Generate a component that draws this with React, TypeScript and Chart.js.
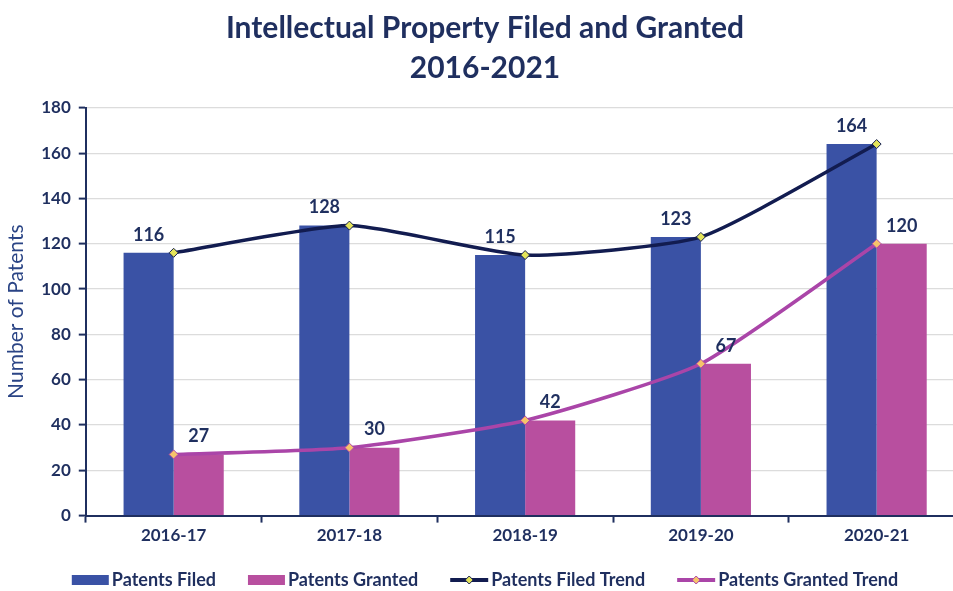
import React, { useEffect, useRef } from "react";
import { Chart, registerables } from "chart.js";

Chart.register(...registerables);

const categories = ["2016-17", "2017-18", "2018-19", "2019-20", "2020-21"];
const patentsFiled = [116, 128, 115, 123, 164];
const patentsGranted = [27, 30, 42, 67, 120];
const yTicks = [0, 20, 40, 60, 80, 100, 120, 140, 160, 180];
const titleLines = ["Intellectual Property Filed and Granted", "2016-2021"];
const yTitle = "Number of Patents";

const NAVY = "#1f2f5f";
const FONT = "Lato, 'Open Sans', sans-serif";

const barLabelPlugin = {
  id: "barLabels",
  afterDatasetsDraw(chart: any) {
    const ctx = chart.ctx;
    ctx.save();
    ctx.font = `bold 18px ${FONT}`;
    ctx.fillStyle = NAVY;
    ctx.textAlign = "center";
    ctx.textBaseline = "bottom";
    [0, 1].forEach((di) => {
      const meta = chart.getDatasetMeta(di);
      const data = chart.data.datasets[di].data as number[];
      meta.data.forEach((el: any, j: number) => {
        ctx.fillText(String(data[j]), el.x, el.y - 9);
      });
    });
    ctx.restore();
  },
};

const legendPlugin = {
  id: "customLegend",
  afterDraw(chart: any) {
    const ctx = chart.ctx;
    const ds = chart.data.datasets;
    ctx.save();
    ctx.font = `bold 18px ${FONT}`;
    ctx.textBaseline = "middle";
    ctx.textAlign = "left";
    const y = 580;
    const boxW = 37;
    const lineW = 38;
    const gapAfterSym = 3;
    const itemGap = 32;
    const items = ds.map((d: any) => ({
      type: d.type === "line" ? "line" : "box",
      text: d.label as string,
      color: (d.type === "line" ? d.borderColor : d.backgroundColor) as string,
      point: d.pointBackgroundColor as string,
    }));
    const widths = items.map(
      (it: any) => (it.type === "box" ? boxW : lineW) + gapAfterSym + ctx.measureText(it.text).width
    );
    const total = widths.reduce((a: number, b: number) => a + b, 0) + itemGap * (items.length - 1);
    let x = 485 - total / 2;
    items.forEach((it: any) => {
      if (it.type === "box") {
        ctx.fillStyle = it.color;
        ctx.fillRect(x, y - 5, boxW, 10);
        x += boxW;
      } else {
        ctx.strokeStyle = it.color;
        ctx.lineWidth = 4;
        ctx.beginPath();
        ctx.moveTo(x, y);
        ctx.lineTo(x + lineW, y);
        ctx.stroke();
        ctx.fillStyle = it.point;
        ctx.strokeStyle = it.color;
        ctx.lineWidth = 1;
        ctx.beginPath();
        ctx.moveTo(x + lineW / 2, y - 4);
        ctx.lineTo(x + lineW / 2 + 4, y);
        ctx.lineTo(x + lineW / 2, y + 4);
        ctx.lineTo(x + lineW / 2 - 4, y);
        ctx.closePath();
        ctx.fill();
        ctx.stroke();
        x += lineW;
      }
      x += gapAfterSym;
      ctx.fillStyle = NAVY;
      ctx.fillText(it.text, x, y);
      x += ctx.measureText(it.text).width + itemGap;
    });
    ctx.restore();
  },
};

export default function App() {
  const canvasRef = useRef<HTMLCanvasElement | null>(null);

  useEffect(() => {
    if (!canvasRef.current) return;
    const chart = new Chart(canvasRef.current, {
      data: {
        labels: categories,
        datasets: [
          {
            type: "bar",
            label: "Patents Filed",
            data: patentsFiled,
            backgroundColor: "#3a52a5",
            order: 2,
          },
          {
            type: "bar",
            label: "Patents Granted",
            data: patentsGranted,
            backgroundColor: "#b84f9f",
            order: 2,
          },
          {
            type: "line",
            label: "Patents Filed Trend",
            data: patentsFiled,
            borderColor: "#121c50",
            borderWidth: 3.5,
            tension: 0.18,
            pointStyle: "rectRot",
            pointRadius: 4.5,
            pointBackgroundColor: "#e4e45a",
            pointBorderColor: "#121c50",
            pointBorderWidth: 1,
            order: 0,
          } as any,
          {
            type: "line",
            label: "Patents Granted Trend",
            data: patentsGranted,
            borderColor: "#aa45a8",
            borderWidth: 3.5,
            tension: 0.18,
            pointStyle: "rectRot",
            pointRadius: 4.5,
            pointBackgroundColor: "#f6c46a",
            pointBorderColor: "#aa45a8",
            pointBorderWidth: 1,
            order: 1,
          } as any,
        ],
      },
      options: {
        animation: false,
        responsive: true,
        maintainAspectRatio: false,
        layout: { padding: { left: 4, right: 4, top: 0, bottom: 42 } },
        datasets: {
          bar: { categoryPercentage: 0.57, barPercentage: 1.0 },
        } as any,
        plugins: {
          legend: { display: false },
          tooltip: { enabled: false },
          title: {
            display: true,
            text: titleLines,
            color: NAVY,
            font: { family: FONT, size: 30, weight: "bold", lineHeight: 1.33 },
            padding: { top: 8, bottom: 20 },
          },
        },
        scales: {
          x: {
            offset: true,
            grid: {
              display: true,
              drawOnChartArea: false,
              drawTicks: true,
              tickLength: 7,
              tickColor: NAVY,
              tickWidth: 2,
              offset: true,
            },
            border: { display: true, color: NAVY, width: 2 },
            ticks: {
              color: NAVY,
              font: { family: FONT, size: 17, weight: "bold" },
              padding: 3,
            },
          },
          y: {
            min: 0,
            max: 180,
            afterBuildTicks(scale: any) {
              scale.ticks = yTicks.map((v) => ({ value: v }));
            },
            grid: {
              color: "#dcdcdc",
              lineWidth: 1.2,
              drawTicks: true,
              tickLength: 7,
              tickColor: NAVY,
              tickWidth: 2,
            },
            border: { display: true, color: NAVY, width: 2 },
            ticks: {
              color: NAVY,
              font: { family: FONT, size: 17, weight: "bold" },
              padding: 8,
            },
            title: {
              display: true,
              text: yTitle,
              color: "#2a4485",
              font: { family: FONT, size: 21, weight: "normal" },
              padding: { top: 0, bottom: 4 },
            },
          },
        },
      },
      plugins: [barLabelPlugin, legendPlugin],
    } as any);
    return () => chart.destroy();
  }, []);

  return (
    <div
      style={{
        position: "fixed",
        left: 0,
        top: 0,
        width: 953,
        height: 591,
        overflow: "hidden",
        background: "#ffffff",
      }}
    >
      <div style={{ position: "relative", width: 970, height: 591 }}>
        <canvas ref={canvasRef} />
      </div>
    </div>
  );
}
